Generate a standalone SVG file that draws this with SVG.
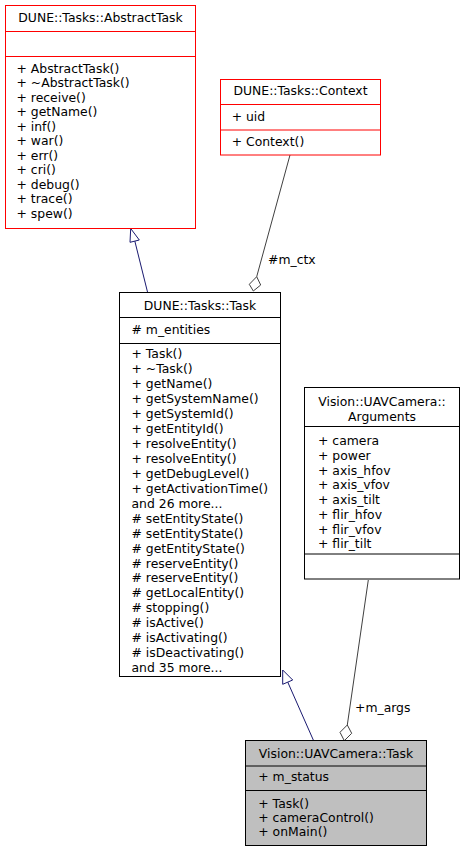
<svg xmlns="http://www.w3.org/2000/svg" width="466" height="852" viewBox="0 0 466 852">
<style>
text{font-family:"DejaVu Sans","Liberation Sans",sans-serif;font-size:12.4px;fill:#000}
.c{text-anchor:middle}
.red{fill:#fff;stroke:#ff0000;stroke-width:1}
.blk{fill:#fff;stroke:#000;stroke-width:1}
.gry{fill:#bfbfbf;stroke:#000;stroke-width:1}
.dr{stroke:#ff0000;stroke-width:1}
.db{stroke:#000;stroke-width:1}
.inh{stroke:#191970;stroke-width:1;fill:none}
.inhh{stroke:#191970;stroke-width:1;fill:#fff}
.agg{stroke:#404040;stroke-width:1;fill:none}
.aggh{stroke:#404040;stroke-width:1;fill:#fff}
</style>
<g id="connectors">
<path class="inh" d="M147.5,292 L134.8,241"/>
<polygon class="inhh" points="130.7,228.5 130,242.3 139.3,240"/>
<path class="inh" d="M313.3,740 L287.7,682"/>
<polygon class="inhh" points="282.7,670 282.7,684.3 292.7,680"/>
<path class="agg" d="M290,155 L256.7,276.7"/>
<polygon class="aggh" points="256.7,276.7 260.7,285 253.3,291 249.3,284.3"/>
<text x="268" y="264">#m_ctx</text>
<path class="agg" d="M368.3,580 L347.3,725"/>
<polygon class="aggh" points="347.3,725 351.7,733.3 344.3,740.7 340,732.3"/>
<text x="355" y="711.7">+m_args</text>
</g>
<g id="AbstractTask">
<rect class="red" x="5.5" y="5.5" width="190" height="223"/>
<line class="dr" x1="5.5" y1="31.5" x2="195.5" y2="31.5"/>
<line class="dr" x1="5.5" y1="56.5" x2="195.5" y2="56.5"/>
<text class="c" x="100.5" y="22">DUNE::Tasks::AbstractTask</text>
<text x="16.5" y="72.5">+ AbstractTask()</text>
<text x="16.5" y="87">+ ~AbstractTask()</text>
<text x="16.5" y="101.5">+ receive()</text>
<text x="16.5" y="116">+ getName()</text>
<text x="16.5" y="130.5">+ inf()</text>
<text x="16.5" y="145">+ war()</text>
<text x="16.5" y="159.5">+ err()</text>
<text x="16.5" y="174">+ cri()</text>
<text x="16.5" y="188.5">+ debug()</text>
<text x="16.5" y="203">+ trace()</text>
<text x="16.5" y="217.5">+ spew()</text>
</g>
<g id="Context">
<rect class="red" x="220.5" y="79.5" width="160" height="75.5"/>
<line class="dr" x1="220.5" y1="104.5" x2="380.5" y2="104.5"/>
<line class="dr" x1="220.5" y1="130" x2="380.5" y2="130"/>
<text class="c" x="300.5" y="95">DUNE::Tasks::Context</text>
<text x="231.7" y="121">+ uid</text>
<text x="231.7" y="146">+ Context()</text>
</g>
<g id="Task">
<rect class="blk" x="119.5" y="292.5" width="161" height="384"/>
<line class="db" x1="119.5" y1="317.5" x2="280.5" y2="317.5"/>
<line class="db" x1="119.5" y1="343.5" x2="280.5" y2="343.5"/>
<text class="c" x="200" y="309.5">DUNE::Tasks::Task</text>
<text x="131.5" y="333.5"># m_entities</text>
<text x="131.5" y="358.3">+ Task()</text>
<text x="131.5" y="373.2">+ ~Task()</text>
<text x="131.5" y="388.2">+ getName()</text>
<text x="131.5" y="403.1">+ getSystemName()</text>
<text x="131.5" y="418.1">+ getSystemId()</text>
<text x="131.5" y="433">+ getEntityId()</text>
<text x="131.5" y="447.9">+ resolveEntity()</text>
<text x="131.5" y="462.9">+ resolveEntity()</text>
<text x="131.5" y="477.8">+ getDebugLevel()</text>
<text x="131.5" y="492.8">+ getActivationTime()</text>
<text x="131.5" y="507.7">and 26 more...</text>
<text x="131.5" y="522.6"># setEntityState()</text>
<text x="131.5" y="537.6"># setEntityState()</text>
<text x="131.5" y="552.5"># getEntityState()</text>
<text x="131.5" y="567.5"># reserveEntity()</text>
<text x="131.5" y="582.4"># reserveEntity()</text>
<text x="131.5" y="597.3"># getLocalEntity()</text>
<text x="131.5" y="612.3"># stopping()</text>
<text x="131.5" y="627.2"># isActive()</text>
<text x="131.5" y="642.2"># isActivating()</text>
<text x="131.5" y="657.1"># isDeactivating()</text>
<text x="131.5" y="672">and 35 more...</text>
</g>
<g id="Arguments">
<rect class="blk" x="304.5" y="387.5" width="155" height="191.5"/>
<line class="db" x1="304.5" y1="426.5" x2="459.5" y2="426.5"/>
<line class="db" x1="304.5" y1="554" x2="459.5" y2="554"/>
<text class="c" x="382" y="406">Vision::UAVCamera::</text>
<text class="c" x="382" y="420.5">Arguments</text>
<text x="318" y="445">+ camera</text>
<text x="318" y="459.8">+ power</text>
<text x="318" y="474.5">+ axis_hfov</text>
<text x="318" y="489.3">+ axis_vfov</text>
<text x="318" y="504">+ axis_tilt</text>
<text x="318" y="518.8">+ flir_hfov</text>
<text x="318" y="533.6">+ flir_vfov</text>
<text x="318" y="548.3">+ flir_tilt</text>
</g>
<g id="UAVCameraTask">
<rect class="gry" x="245.5" y="740.5" width="181" height="105"/>
<line class="db" x1="245.5" y1="766" x2="426.5" y2="766"/>
<line class="db" x1="245.5" y1="790.5" x2="426.5" y2="790.5"/>
<text class="c" x="336" y="757.7">Vision::UAVCamera::Task</text>
<text x="258.3" y="781">+ m_status</text>
<text x="258.3" y="807.5">+ Task()</text>
<text x="258.3" y="821.7">+ cameraControl()</text>
<text x="258.3" y="836">+ onMain()</text>
</g>
</svg>
